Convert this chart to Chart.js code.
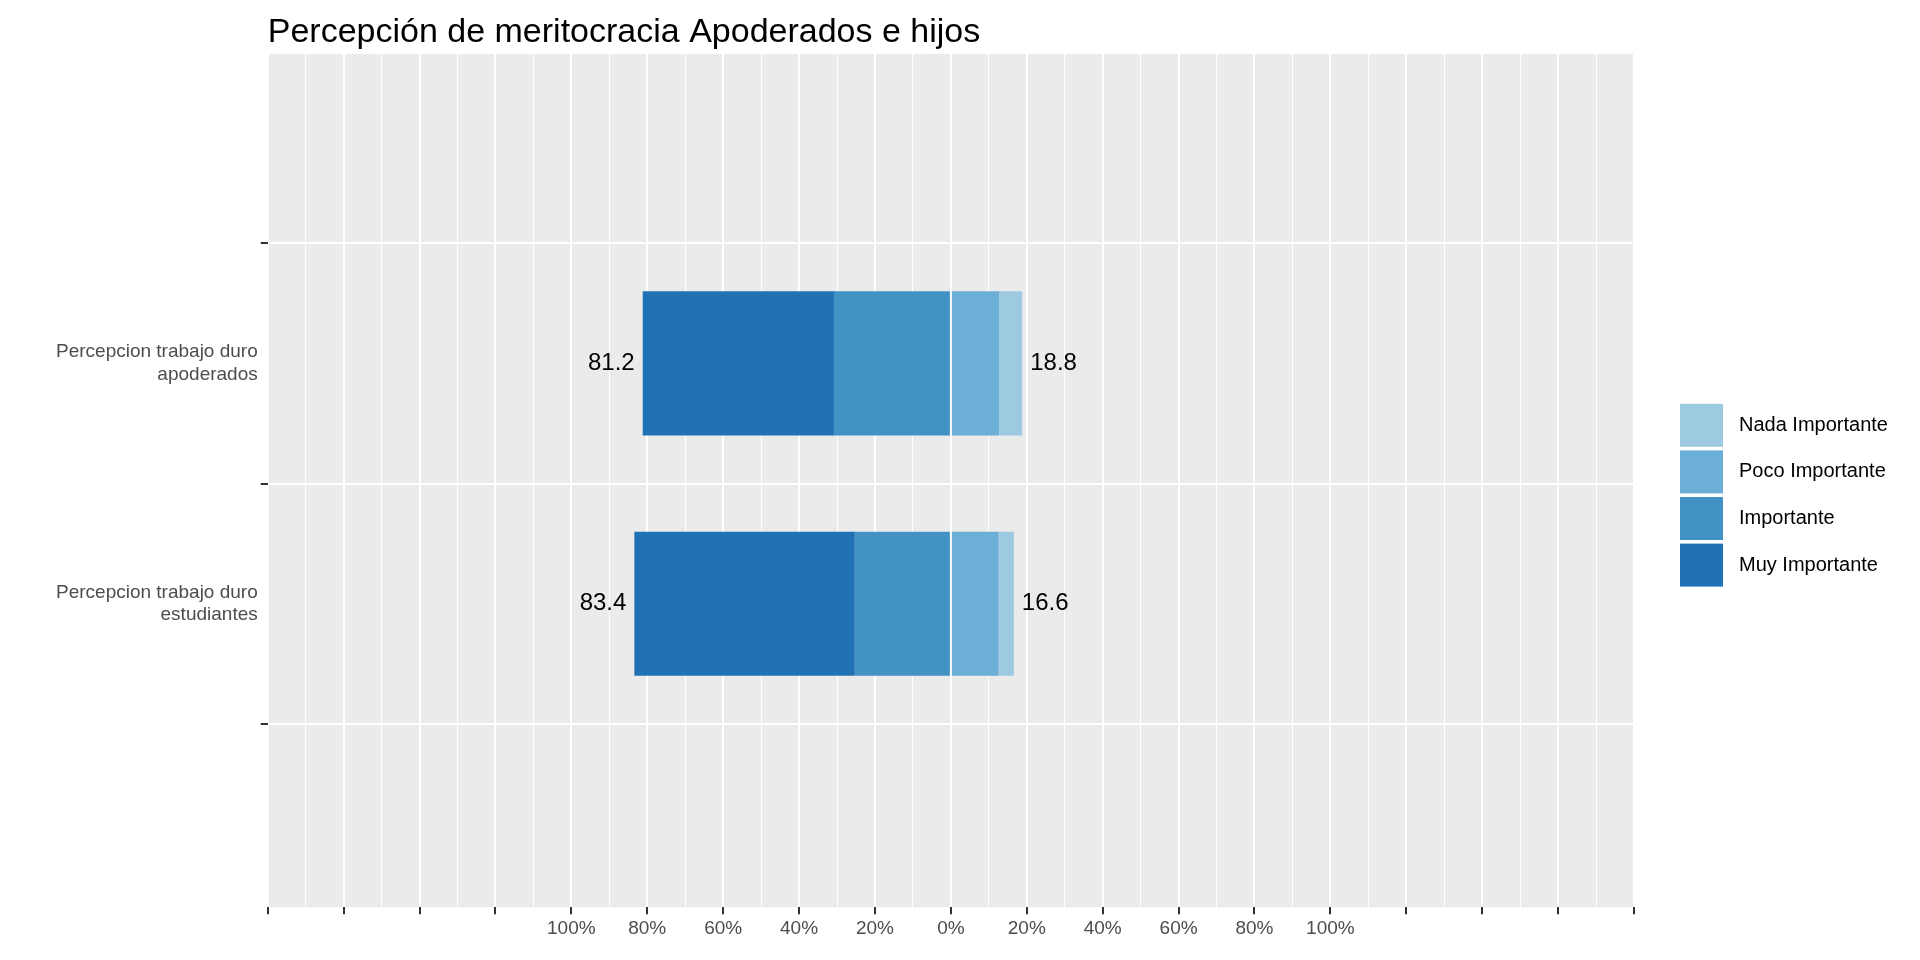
<!DOCTYPE html>
<html>
<head>
<meta charset="utf-8">
<script src="https://cdn.jsdelivr.net/npm/chart.js@4/dist/chart.umd.min.js"></script>
<style>
  html, body { margin: 0; padding: 0; background: #fff; }
  #wrap { width: 1920px; height: 960px; }
</style>
</head>
<body>
<div id="wrap"><canvas id="chart"></canvas></div>
<script>
const categories = [['Percepcion trabajo duro', 'apoderados'], ['Percepcion trabajo duro', 'estudiantes']];
const muyImportante = [-50.4, -58.1];
const importante = [-30.8, -25.3];
const pocoImportante = [12.7, 12.6];
const nadaImportante = [6.1, 4.0];
const totalNeg = [81.2, 83.4];
const totalPos = [18.8, 16.6];
const legendOrder = ['Nada Importante', 'Poco Importante', 'Importante', 'Muy Importante'];
const FONT = '"Liberation Sans", Arial, sans-serif';

const pts = arr => arr.map((v, i) => ({ x: v, y: i }));

const panelBg = {
  id: 'panelBg',
  beforeDraw(chart) {
    const { ctx, chartArea: a, scales } = chart;
    ctx.save();
    ctx.fillStyle = '#EBEBEB';
    ctx.fillRect(a.left, a.top, a.right - a.left, a.bottom - a.top);
    ctx.strokeStyle = '#FFFFFF';
    ctx.lineWidth = 1;
    [-0.5, 0.5, 1.5].forEach(v => {
      const y = scales.y.getPixelForValue(v);
      if (y < a.top || y > a.bottom) return;
      ctx.beginPath(); ctx.moveTo(a.left, y); ctx.lineTo(a.right, y); ctx.stroke();
    });
    ctx.restore();
  }
};

const extras = {
  id: 'extras',
  afterDraw(chart) {
    const { ctx, scales, chartArea: a } = chart;
    ctx.save();
    // value labels
    ctx.font = '24px ' + FONT;
    ctx.fillStyle = '#000';
    ctx.textBaseline = 'middle';
    categories.forEach((c, i) => {
      const y = scales.y.getPixelForValue(i);
      ctx.textAlign = 'right';
      ctx.fillText(totalNeg[i].toFixed(1), scales.x.getPixelForValue(-totalNeg[i]) - 8, y);
      ctx.textAlign = 'left';
      ctx.fillText(totalPos[i].toFixed(1), scales.x.getPixelForValue(totalPos[i]) + 8, y);
    });
    // title
    ctx.font = '34px ' + FONT;
    ctx.textAlign = 'left';
    ctx.textBaseline = 'alphabetic';
    ctx.fillText('Percepción de meritocracia Apoderados e hijos', a.left, 42);
    // legend
    const step = 46.6, box = 43;
    const top = 497 - (legendOrder.length * step) / 2;
    ctx.font = '20px ' + FONT;
    ctx.textBaseline = 'middle';
    legendOrder.forEach((name, k) => {
      const ds = chart.data.datasets.find(d => d.label === name);
      const y = top + k * step;
      ctx.fillStyle = ds.backgroundColor;
      ctx.fillRect(1680, y, box, box);
      ctx.fillStyle = '#000';
      ctx.fillText(name, 1739, y + box / 2);
    });
    ctx.restore();
  }
};

new Chart(document.getElementById('chart').getContext('2d'), {
  type: 'bar',
  data: {
    datasets: [
      { label: 'Importante', data: pts(importante), backgroundColor: '#4292C6' },
      { label: 'Muy Importante', data: pts(muyImportante), backgroundColor: '#2171B5' },
      { label: 'Poco Importante', data: pts(pocoImportante), backgroundColor: '#6BAED6' },
      { label: 'Nada Importante', data: pts(nadaImportante), backgroundColor: '#9ECAE1' }
    ]
  },
  options: {
    indexAxis: 'y',
    responsive: true,
    maintainAspectRatio: false,
    animation: false,
    barPercentage: 0.6,
    categoryPercentage: 1,
    layout: { padding: { top: 54, right: 286, bottom: 17, left: 53 } },
    plugins: {
      title: { display: false },
      legend: { display: false },
      tooltip: { enabled: false }
    },
    scales: {
      x: {
        type: 'linear', stacked: true, min: -180, max: 180,
        border: { display: false },
        ticks: {
          stepSize: 10, autoSkip: false, maxRotation: 0, color: '#4D4D4D',
          font: { size: 19, family: FONT },
          callback: v => (v % 20 === 0 && Math.abs(v) <= 100) ? Math.abs(v) + '%' : ''
        },
        grid: {
          color: '#FFFFFF',
          lineWidth: c => (c.tick && c.tick.value % 20 === 0) ? 2 : 1,
          tickColor: c => (c.tick && c.tick.value % 20 === 0) ? '#333' : 'rgba(0,0,0,0)',
          tickLength: 7
        }
      },
      y: {
        type: 'linear', stacked: true, reverse: true, min: -0.4, max: 1.375,
        border: { display: false },
        afterBuildTicks: s => { s.ticks = categories.map((c, i) => ({ value: i })); },
        ticks: {
          color: '#4D4D4D', font: { size: 19, family: FONT },
          callback: v => categories[v]
        },
        grid: { color: '#FFFFFF', lineWidth: 2, tickColor: '#333', tickLength: 7 }
      }
    }
  },
  plugins: [panelBg, extras]
});
</script>
</body>
</html>
